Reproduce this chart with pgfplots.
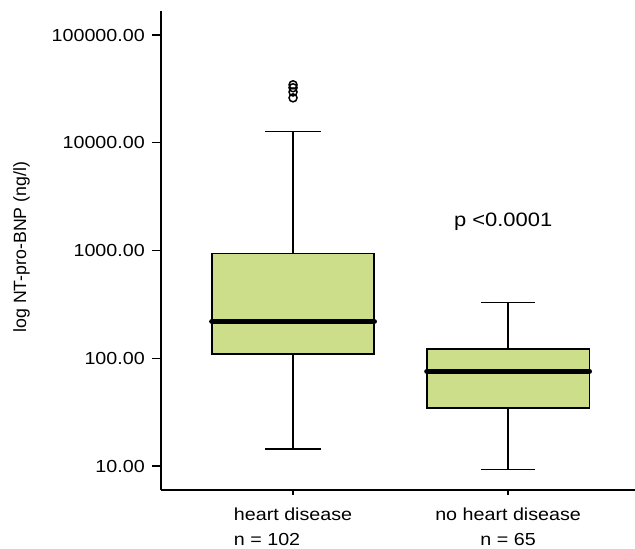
\documentclass[border=0pt]{standalone}
\usepackage{pgfplots}
\pgfplotsset{compat=1.18}
\usepackage{fontspec}
\setmainfont{Liberation Sans}[FakeStretch=1.13]
\newfontfamily\ylabfont{Liberation Sans}
\definecolor{boxgreen}{RGB}{205,222,139}

% five-number summaries (ng/l) and box geometry
% heart disease (n=102): whisker 14.4, Q1 110, median 220, Q3 938, whisker 12700
% no heart disease (n=65): whisker 9.3, Q1 34.6, median 75.7, Q3 122, whisker 330

\begin{document}
\begin{tikzpicture}
\begin{axis}[
  scale only axis, width=474bp, height=479bp,
  ymode=log, ymin=6, ymax=167000,
  xmin=0.386, xmax=2.59,
  axis x line=bottom, axis y line=left,
  axis line style={-, line width=1.4bp, black},
  ytick={10,100,1000,10000,100000},
  yticklabels={10.00,100.00,1000.00,10000.00,100000.00},
  yminorticks=false,
  xtick={1,2},
  xticklabels={{\begin{tabular}{@{}l@{}}heart disease\\n = 102\end{tabular}},
               {\begin{tabular}{@{}c@{}}no heart disease\\n = 65\end{tabular}}},
  tick align=outside,
  major tick length=9bp,
  xtick style={/pgfplots/major tick length=5bp},
  tick style={line width=1.4bp, black},
  tick label style={font=\fontsize{17.5}{25}\selectfont},
  yticklabel style={inner sep=0pt, xshift=-7bp},
  xticklabel style={inner sep=0pt, yshift=-4bp},
  ylabel={\ylabfont log NT-pro-BNP (ng/l)},
  ylabel style={font=\fontsize{17.8}{21}\selectfont, at={(axis description cs:-0.294,0.507)}, anchor=center},
  clip=false,
]
% ---- heart disease ----
\addplot[black, line width=1.5bp] coordinates {(1,938) (1,12700)};
\addplot[black, line width=1.5bp] coordinates {(0.87,12700) (1.13,12700)};
\addplot[black, line width=1.5bp] coordinates {(1,14.4) (1,110)};
\addplot[black, line width=1.5bp] coordinates {(0.87,14.4) (1.13,14.4)};
\addplot[draw=black, fill=boxgreen, line width=1.5bp] coordinates
  {(0.6225,110) (1.3775,110) (1.3775,938) (0.6225,938)} -- cycle;
\addplot[black, line width=5.5bp, line cap=round] coordinates {(0.6225,220) (1.3775,220)};
\addplot[only marks, mark=o, mark size=4bp, mark options={draw=black, fill=none, line width=1.5bp}]
  coordinates {(1,26100) (1,29600) (1,32400) (1,34500)};
% ---- no heart disease ----
\addplot[black, line width=1.5bp] coordinates {(2,122) (2,330)};
\addplot[black, line width=1.5bp] coordinates {(1.875,330) (2.125,330)};
\addplot[black, line width=1.5bp] coordinates {(2,9.3) (2,34.6)};
\addplot[black, line width=1.5bp] coordinates {(1.875,9.3) (2.125,9.3)};
\addplot[draw=black, fill=boxgreen, line width=1.5bp] coordinates
  {(1.6225,34.6) (2.3775,34.6) (2.3775,122) (1.6225,122)} -- cycle;
\addplot[black, line width=5.5bp, line cap=round] coordinates {(1.6225,75.7) (2.3775,75.7)};
\node[font=\fontsize{19.5}{23}\selectfont] at (axis cs:1.977,1860) {p <0.0001};
\end{axis}
\pgfresetboundingbox
\path ([shift={(-161bp,-59bp)}]current axis.south west) rectangle ([shift={(0bp,11bp)}]current axis.north east);
\end{tikzpicture}
\end{document}
